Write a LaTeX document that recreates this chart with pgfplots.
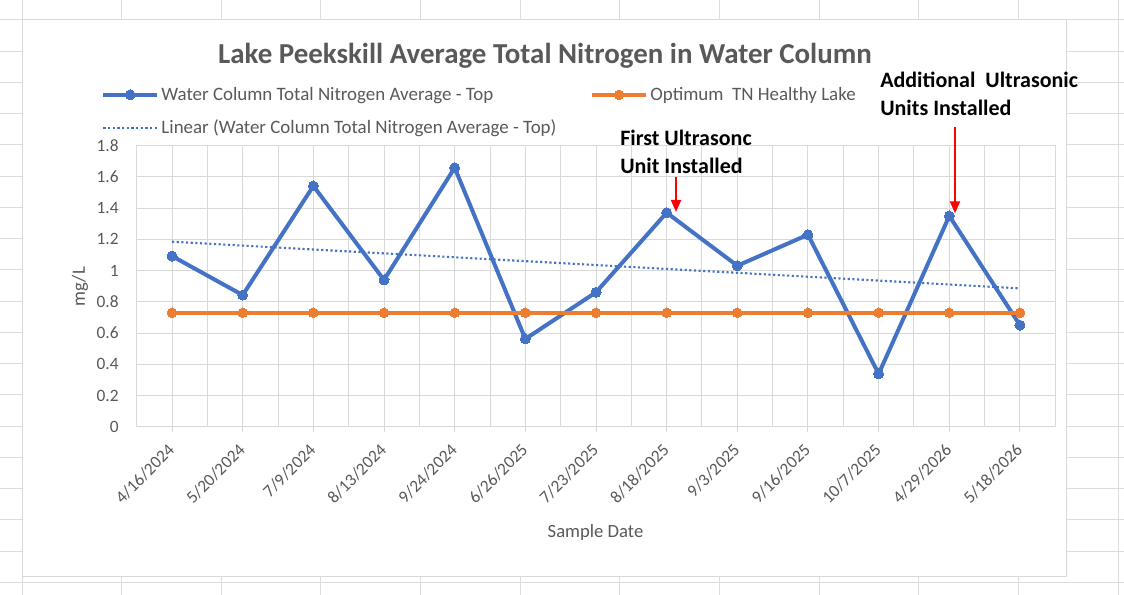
\documentclass[border=0pt]{standalone}
\usepackage{pgfplots}
\pgfplotsset{compat=1.18}
\usepackage{fontspec}
\setmainfont{Carlito}
\usetikzlibrary{arrows.meta}
\definecolor{textgray}{HTML}{595959}
\definecolor{gridgray}{HTML}{D9D9D9}
\definecolor{sheetgray}{HTML}{DCDCDC}
\definecolor{xlblue}{HTML}{4472C4}
\definecolor{xlorange}{HTML}{ED7D31}
\begin{document}
\begin{tikzpicture}
\begin{scope}[x=0.75pt,y=0.75pt]
\useasboundingbox (0,0) rectangle (1124,595);
\foreach \k in {0,...,11} \draw[sheetgray, line width=0.75pt] ({22+99.65*\k},0) -- ({22+99.65*\k},595);
\foreach \k in {0,...,18} \draw[sheetgray, line width=0.75pt] (0,{575-31.25*\k}) -- (1124,{575-31.25*\k});
\fill[white] (22,575) rectangle (1066,18.5);
\draw[gridgray, line width=0.75pt] (22,575) rectangle (1066,18.5);
\node[anchor=base, font=\fontsize{21.7}{25}\selectfont\bfseries, text=textgray] at (545,531.5) {Lake Peekskill Average Total Nitrogen in Water Column};
\end{scope}
\begin{axis}[
  at={(102.525pt,126.225pt)}, anchor=south west,
  scale only axis, width=688.95pt, height=210.75pt,
  xmin=-0.5, xmax=12.5, ymin=0, ymax=1.8,
  xtick={0,...,12},
  xticklabels={4/16/2024,5/20/2024,7/9/2024,8/13/2024,9/24/2024,6/26/2025,7/23/2025,8/18/2025,9/3/2025,9/16/2025,10/7/2025,4/29/2026,5/18/2026},
  minor xtick={-0.5,0.5,...,12.5},
  ytick={0,0.2,0.4,0.6,0.8,1,1.2,1.4,1.6,1.8},
  xmajorgrids, xminorgrids, ymajorgrids,
  major grid style={draw=gridgray, line width=0.75pt},
  minor grid style={draw=gridgray, line width=0.75pt},
  axis line style={draw=gridgray, line width=0.75pt},
  tick align=outside, xtick pos=bottom, ytick pos=left,
  major tick length=4pt, minor tick length=0pt,
  xtick style={draw=gridgray, line width=0.75pt},
  ytick style={draw=none},
  /pgf/number format/assume math mode=true,
  tick label style={font=\fontsize{13}{15}\selectfont, text=textgray},
  yticklabel style={xshift=-6pt},
  xticklabel style={xshift=2pt, yshift=-9pt, rotate=45, anchor=east},
  xlabel={Sample Date}, ylabel={mg/L},
  every axis x label/.style={at={(axis description cs:0.4995,-0.378)}, anchor=center, font=\fontsize{14}{16}\selectfont, text=textgray},
  every axis y label/.style={at={(axis description cs:-0.0617,0.498)}, anchor=center, rotate=90, font=\fontsize{14}{16}\selectfont, text=textgray},
  legend columns=2,
  legend cell align=left,
  legend style={at={(axis description cs:-0.043,1.228)}, anchor=north west, draw=none, fill=none,
    font=\fontsize{14.2}{17}\selectfont, text=textgray,
    /tikz/every even column/.append style={column sep=23.5pt},
    row sep=9pt},
  legend image code/.code={\draw[mark repeat=2,mark phase=2] plot coordinates {(0pt,0pt) (20pt,0pt) (40pt,0pt)};},
]
\addplot[color=xlblue, line width=3pt, mark=*, mark size=3.75pt, mark options={fill=xlblue, draw=xlblue, line width=0pt}] coordinates {
(0,1.093) (1,0.843) (2,1.542) (3,0.940) (4,1.659) (5,0.562) (6,0.861) (7,1.371) (8,1.031) (9,1.230) (10,0.338) (11,1.350) (12,0.650)};
\addlegendentry{Water Column Total Nitrogen Average - Top}
\addplot[color=xlorange, line width=3pt, mark=*, mark size=3.6pt, mark options={fill=xlorange, draw=xlorange, line width=0pt}] coordinates {
(0,0.73) (1,0.73) (2,0.73) (3,0.73) (4,0.73) (5,0.73) (6,0.73) (7,0.73) (8,0.73) (9,0.73) (10,0.73) (11,0.73) (12,0.73)};
\addlegendentry{Optimum\ \ TN Healthy Lake}
\addplot[color=xlblue, line width=1.6pt, dash pattern=on 1.6pt off 1.9pt, mark=none] coordinates {(0,1.185) (12,0.886)};
\addlegendentry{Linear (Water Column Total Nitrogen Average - Top)}
\end{axis}
\begin{scope}[x=0.75pt,y=0.75pt]
\node[anchor=base west, inner sep=0pt, align=left, font=\fontsize{16.5}{20.8}\selectfont\bfseries] at (620,421.5) {First Ultrasonc\\Unit Installed};
\node[anchor=base west, inner sep=0pt, align=left, font=\fontsize{16.5}{20.8}\selectfont\bfseries] at (880,479.5) {Additional\ \ Ultrasonic\\Units Installed};
\draw[red, line width=1.5pt, -{Triangle[width=7.5pt,length=9pt]}] (676,418.3) -- (676,383);
\draw[red, line width=1.5pt, -{Triangle[width=7.5pt,length=9pt]}] (955,468.3) -- (955,381.7);
\end{scope}
\end{tikzpicture}
\end{document}
